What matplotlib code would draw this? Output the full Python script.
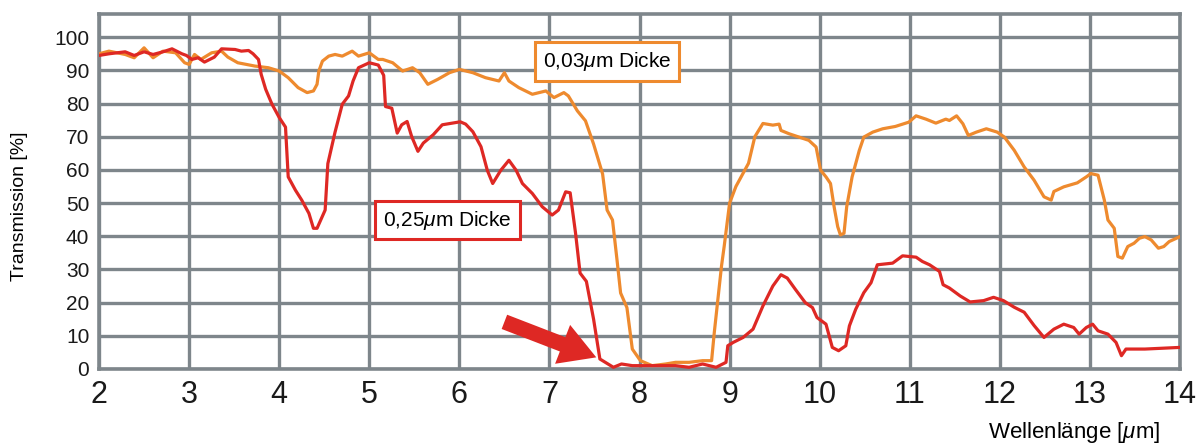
import matplotlib
matplotlib.use("Agg")
import matplotlib.pyplot as plt

plt.rcParams['font.family'] = ['Liberation Sans', 'DejaVu Sans']
plt.rcParams['mathtext.fontset'] = 'custom'
plt.rcParams['mathtext.it'] = 'Liberation Sans:italic'
plt.rcParams['mathtext.rm'] = 'Liberation Sans'

# 0,25 um Dicke (rot)
wl_thick = [2.0, 2.11, 2.29, 2.39, 2.50, 2.60, 2.71, 2.81, 2.92, 2.97, 3.03, 3.10, 3.17, 3.28,
            3.36, 3.51, 3.58, 3.66, 3.71, 3.77, 3.80, 3.85, 3.92, 4.00, 4.07, 4.10, 4.18, 4.25,
            4.33, 4.38, 4.42, 4.51, 4.54, 4.62, 4.70, 4.77, 4.82, 4.88, 5.00, 5.10, 5.16, 5.18,
            5.25, 5.31, 5.36, 5.42, 5.47, 5.54, 5.60, 5.71, 5.81, 5.92, 6.01, 6.07, 6.15, 6.24,
            6.31, 6.37, 6.46, 6.55, 6.63, 6.70, 6.81, 6.92, 7.03, 7.10, 7.18, 7.23, 7.29, 7.34,
            7.41, 7.49, 7.56, 7.62, 7.71, 7.80, 7.92, 8.03, 8.22, 8.40, 8.55, 8.70, 8.85, 8.96,
            8.98, 9.04, 9.15, 9.26, 9.37, 9.48, 9.57, 9.64, 9.73, 9.84, 9.92, 9.97, 10.07, 10.14,
            10.21, 10.29, 10.33, 10.40, 10.49, 10.57, 10.64, 10.81, 10.92, 11.07, 11.14, 11.22,
            11.33, 11.37, 11.44, 11.56, 11.67, 11.82, 11.93, 12.04, 12.16, 12.27, 12.38, 12.49,
            12.60, 12.71, 12.82, 12.88, 12.96, 13.03, 13.09, 13.20, 13.29, 13.35, 13.40, 13.61,
            14.0]
tr_thick = [94.5, 95, 95.6, 94.5, 95.6, 94.8, 95.6, 96.5, 95.0, 94.5, 93.3, 93.8, 92.5, 94.0,
            96.5, 96.3, 95.8, 96.0, 95.0, 93.3, 88.8, 84.3, 79.8, 75.8, 72.9, 57.9, 53.9, 50.9,
            46.9, 42.4, 42.4, 47.9, 61.9, 71.4, 79.8, 82.3, 86.8, 90.8, 92.3, 91.6, 88.5, 79.1,
            78.6, 71.1, 73.6, 74.6, 70.1, 65.6, 68.1, 70.6, 73.6, 74.1, 74.5, 73.8, 71.5, 67,
            59.9, 55.9, 59.9, 62.9, 59.9, 55.9, 52.9, 48.9, 46.4, 47.9, 53.4, 53.1, 40.9, 28.9,
            26.4, 15, 3, 2, 0.5, 1.5, 1, 1, 1, 1, 0.5, 1.5, 0.5, 2,
            7, 8, 9.5, 12, 19, 25, 28.4, 27.4, 24, 20, 18.5, 15.5, 13.5, 6.5,
            5.5, 7, 13, 18, 23, 26, 31.4, 31.9, 34.1, 33.7, 32.4, 31.4,
            29.4, 25.4, 24.4, 22, 20.2, 20.6, 21.6, 20.6, 18.6, 17.1, 13.1, 9.5,
            12, 13.5, 12.5, 10.5, 12.5, 13.5, 11.5, 10.5, 8, 4, 6, 6,
            6.5]

# 0,03 um Dicke (orange)
wl_thin = [2.0, 2.11, 2.29, 2.39, 2.50, 2.60, 2.71, 2.85, 2.95, 3.00, 3.06, 3.13, 3.25, 3.36,
           3.43, 3.54, 3.73, 3.88, 4.00, 4.10, 4.21, 4.31, 4.38, 4.42, 4.44, 4.48, 4.55, 4.62,
           4.70, 4.81, 4.88, 5.00, 5.10, 5.15, 5.26, 5.37, 5.48, 5.56, 5.65, 5.76, 5.89, 6.00,
           6.15, 6.29, 6.44, 6.50, 6.55, 6.66, 6.81, 6.96, 7.05, 7.16, 7.21, 7.31, 7.40, 7.49,
           7.59, 7.64, 7.70, 7.75, 7.79, 7.86, 7.92, 8.01, 8.14, 8.29, 8.40, 8.55, 8.70, 8.80,
           8.83, 8.87, 8.91, 8.94, 9.00, 9.07, 9.15, 9.21, 9.28, 9.37, 9.48, 9.55, 9.57, 9.66,
           9.77, 9.88, 9.96, 10.01, 10.07, 10.12, 10.16, 10.20, 10.23, 10.27, 10.30, 10.36, 10.44,
           10.49, 10.59, 10.70, 10.84, 10.99, 11.07, 11.18, 11.29, 11.40, 11.44, 11.52, 11.59,
           11.65, 11.74, 11.85, 11.97, 12.05, 12.16, 12.27, 12.38, 12.49, 12.57, 12.60, 12.71,
           12.86, 12.96, 13.01, 13.09, 13.16, 13.20, 13.27, 13.31, 13.36, 13.42, 13.49, 13.55,
           13.61, 13.68, 13.76, 13.82, 13.88, 14.0]
tr_thin = [95, 95.8, 94.8, 93.8, 96.8, 93.8, 95.8, 95.3, 92.3, 91.8, 94.8, 93.3, 95.3, 95.8,
           94, 92.3, 91.3, 90.8, 89.8, 87.8, 84.8, 83.3, 83.8, 85.8, 89.8, 92.8, 94.3, 94.8,
           94.3, 95.8, 94.3, 95.3, 93.3, 93.3, 92.3, 89.8, 90.8, 89.3, 85.8, 87.3, 89.3, 90.3,
           89.3, 87.8, 86.8, 89.3, 86.8, 84.8, 82.8, 83.8, 81.8, 83.3, 82.3, 77.8, 74.8, 67.8,
           58.8, 47.9, 44.9, 32.9, 22.9, 18.5, 6, 2.5, 1, 1.5, 2, 2, 2.5, 2.5,
           11, 21, 31, 37, 50, 55, 59, 62, 70, 74, 73.5, 73.8, 71.9, 70.9,
           69.9, 68.9, 66.9, 59.9, 57.9, 55.9, 48.9, 42.9, 40.4, 40.9, 48.9, 57.9, 65.9,
           69.9, 71.4, 72.4, 73.1, 74.4, 76.3, 75.3, 74.1, 75.3, 74.9, 76.3, 73.9,
           70.4, 71.4, 72.4, 71.4, 69.9, 65.9, 60.9, 56.9, 51.9, 50.9, 53.5, 54.9,
           56.1, 57.9, 58.9, 58.4, 50.9, 44.9, 42.4, 33.9, 33.4, 36.9, 37.9, 39.4,
           39.9, 38.9, 36.4, 36.9, 38.4, 39.9]

x_ticks = list(range(2, 15))
y_ticks = list(range(0, 101, 10))

red = '#de2824'
orange = '#ee8a2e'
gray = '#7e868b'

fig = plt.figure(figsize=(12.02, 4.44), dpi=100)
ax = fig.add_axes([0.0824, 0.169, 0.8993, 0.7995])

ax.plot(wl_thin, tr_thin, color=orange, lw=2.3, zorder=3)
ax.plot(wl_thick, tr_thick, color=red, lw=2.3, zorder=4)

ax.set_xlim(2, 14)
ax.set_ylim(0, 107)
ax.set_xticks(x_ticks)
ax.set_yticks(y_ticks)
ax.tick_params(axis='x', length=0, pad=8, labelsize=22, labelcolor='#1a1a1a')
ax.tick_params(axis='y', length=0, pad=7, labelsize=15, labelcolor='#1a1a1a')
ax.grid(True, color=gray, lw=2.4)
ax.set_axisbelow(True)
for s in ax.spines.values():
    s.set_color(gray)
    s.set_linewidth(2.6)

# Beschriftungen
ax.text(7.64, 92.8, '0,03$\\mu$m Dicke', ha='center', va='center', fontsize=15, zorder=5,
        bbox=dict(boxstyle='square,pad=0.38', fc='white', ec=orange, lw=2.2))
ax.text(5.87, 44.9, '0,25$\\mu$m Dicke', ha='center', va='center', fontsize=15, zorder=5,
        bbox=dict(boxstyle='square,pad=0.38', fc='white', ec=red, lw=2.2))

ax.annotate('', xy=(7.52, 3.5), xytext=(6.5, 14.2),
            arrowprops=dict(facecolor=red, edgecolor='none', width=11, headwidth=30, headlength=26),
            zorder=6)

fig.text(0.016, 0.535, 'Transmission [%]', rotation=90, ha='center', va='center', fontsize=14)
fig.text(0.965, 0.027, 'Wellenlänge [$\\mu$m]', ha='right', va='center', fontsize=16)

fig.savefig('out.png', dpi=100)
